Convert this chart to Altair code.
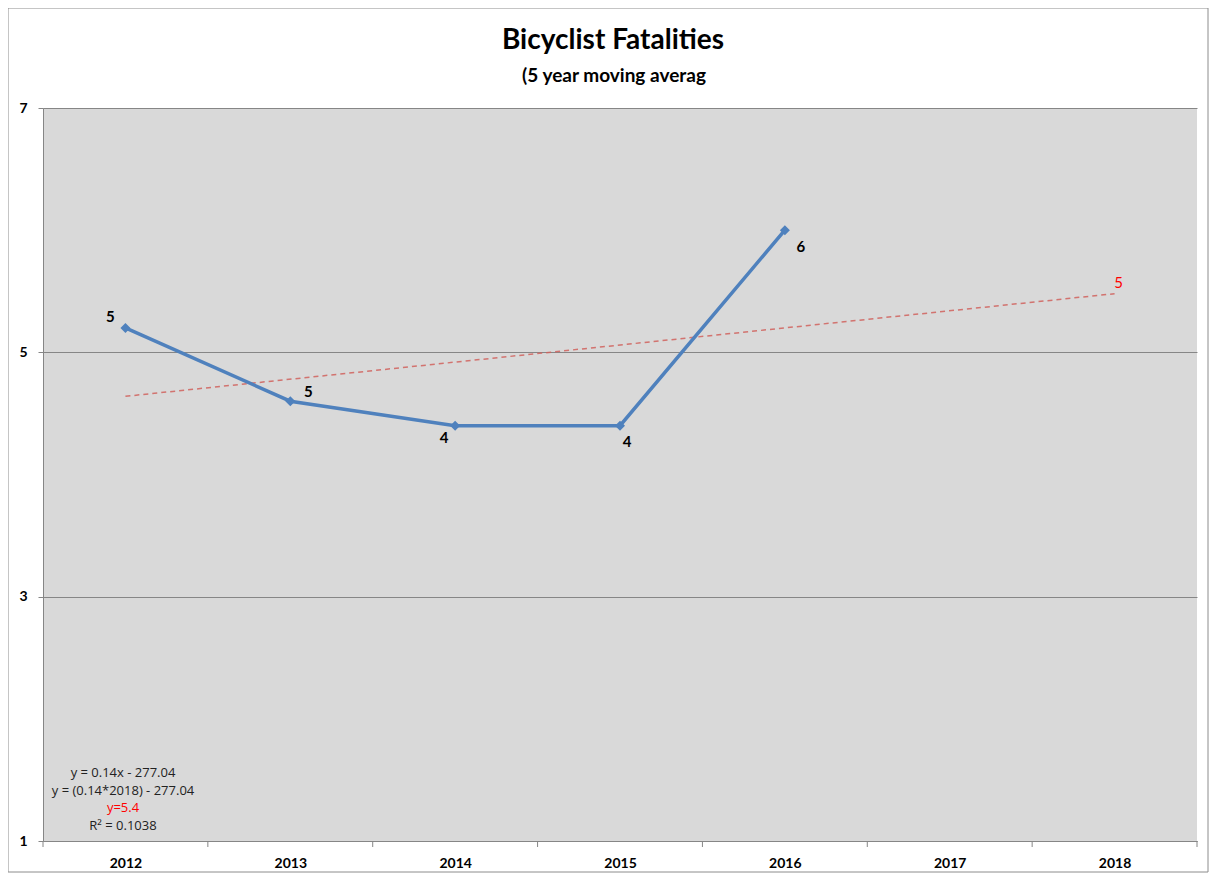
import altair as alt
import pandas as pd

# ---- data ----
years = [2012, 2013, 2014, 2015, 2016]
fatalities = [5.2, 4.6, 4.4, 4.4, 6.0]

trend_years = [2012, 2018]
trend_values = [4.64, 5.48]

equation_lines = ["y = 0.14x - 277.04", "y = (0.14*2018) - 277.04", "y=5.4", "R\u00b2 = 0.1038"]
equation_colors = ["#222222", "#222222", "#FF0000", "#222222"]

title_text = "Bicyclist Fatalities"
subtitle_text = "(5 year moving averag"

x_labels = [2012, 2013, 2014, 2015, 2016, 2017, 2018]
x_boundaries = [2011.5, 2012.5, 2013.5, 2014.5, 2015.5, 2016.5, 2017.5, 2018.5]
y_ticks = [1, 3, 5, 7]

W, H = 1154, 733

main_df = pd.DataFrame({"year": years, "value": fatalities})
trend_df = pd.DataFrame({"year": trend_years, "value": trend_values})
bound_df = pd.DataFrame({"year": x_boundaries})

xscale = alt.Scale(domain=[2011.5, 2018.5], nice=False, zero=False)
yscale = alt.Scale(domain=[1, 7], nice=False, zero=False)

x_axis = alt.Axis(
    values=x_labels, format="d", title=None, grid=False, ticks=False,
    labelOverlap=False, labelFlush=False, domainColor="#868686",
    labelFont="Lato", labelFontSize=14, labelFontWeight="bold", labelColor="black",
    labelPadding=15,
)
y_axis = alt.Axis(
    values=y_ticks, title=None, grid=True, gridColor="#868686", gridWidth=1,
    tickSize=5, tickColor="#868686", domainColor="#868686",
    labelFont="Lato", labelFontSize=14, labelFontWeight="bold", labelColor="black",
    labelPadding=11,
)

X = alt.X("year:Q", scale=xscale, axis=x_axis)
Y = alt.Y("value:Q", scale=yscale, axis=y_axis)

one = pd.DataFrame({"a": [0]})

trend = alt.Chart(trend_df).mark_line(
    color="#D0605C", strokeWidth=1.5, strokeDash=[5, 4], opacity=0.85
).encode(x=X, y=Y)

line = alt.Chart(main_df).mark_line(color="#4F81BD", strokeWidth=3.5).encode(x=X, y=Y)
pts = alt.Chart(main_df).mark_point(
    shape="diamond", filled=True, size=100, color="#4F81BD", opacity=1
).encode(x=X, y=Y)

# label placements (style only)
placements = {2012: (-15, -11), 2013: (18, -9), 2014: (-11, 12), 2015: (7, 16), 2016: (16, 17)}
labels = []
for yr, (dx, dy) in placements.items():
    labels.append(
        alt.Chart(main_df).transform_filter(alt.datum.year == yr).mark_text(
            font="Lato", fontSize=15, fontWeight="bold", color="black", dx=dx, dy=dy
        ).encode(x=X, y=Y, text=alt.Text("value:Q", format=".0f"))
    )

trend_label = alt.Chart(trend_df).transform_filter(alt.datum.year == trend_years[-1]).mark_text(
    font="Lato", fontSize=15, color="#FF0000", dx=4, dy=-11
).encode(x=X, y=Y, text=alt.Text("value:Q", format=".0f"))

# x tick marks at category boundaries
ticks = alt.Chart(bound_df).mark_rule(color="#868686", strokeWidth=1).encode(
    x=X, y=alt.value(H), y2=alt.value(H + 6)
)

eqs = []
for i, (txt, col) in enumerate(zip(equation_lines, equation_colors)):
    eqs.append(
        alt.Chart(one).mark_text(
            font="Open Sans", fontSize=13, align="center", color=col, text=txt
        ).encode(x=alt.value(80), y=alt.value(665 + 17.7 * i))
    )

titles = [
    alt.Chart(one).mark_text(
        font="Lato", fontSize=28, fontWeight="bold", color="black", align="center",
        baseline="alphabetic", text=title_text
    ).encode(x=alt.value(W / 2 - 7), y=alt.value(-59)),
    alt.Chart(one).mark_text(
        font="Lato", fontSize=19, fontWeight="bold", color="black", align="center",
        baseline="alphabetic", text=subtitle_text
    ).encode(x=alt.value(W / 2 - 6), y=alt.value(-26)),
]

frame = alt.Chart(one).mark_rect(
    fill=None, stroke="#8C8C8C", strokeWidth=1
).encode(x=alt.value(-35), x2=alt.value(1165), y=alt.value(-100), y2=alt.value(764))

chart = alt.layer(trend, line, pts, *labels, trend_label, ticks, *eqs, *titles, frame).properties(
    width=W, height=H,
    background="white",
    autosize=alt.AutoSizeParams(type="none"),
    padding={"left": 35, "top": 100, "right": 14, "bottom": 32},
).configure_view(fill="#D9D9D9", stroke=None)

chart.save("out.html", embed_options={"renderer": "svg", "actions": False})
